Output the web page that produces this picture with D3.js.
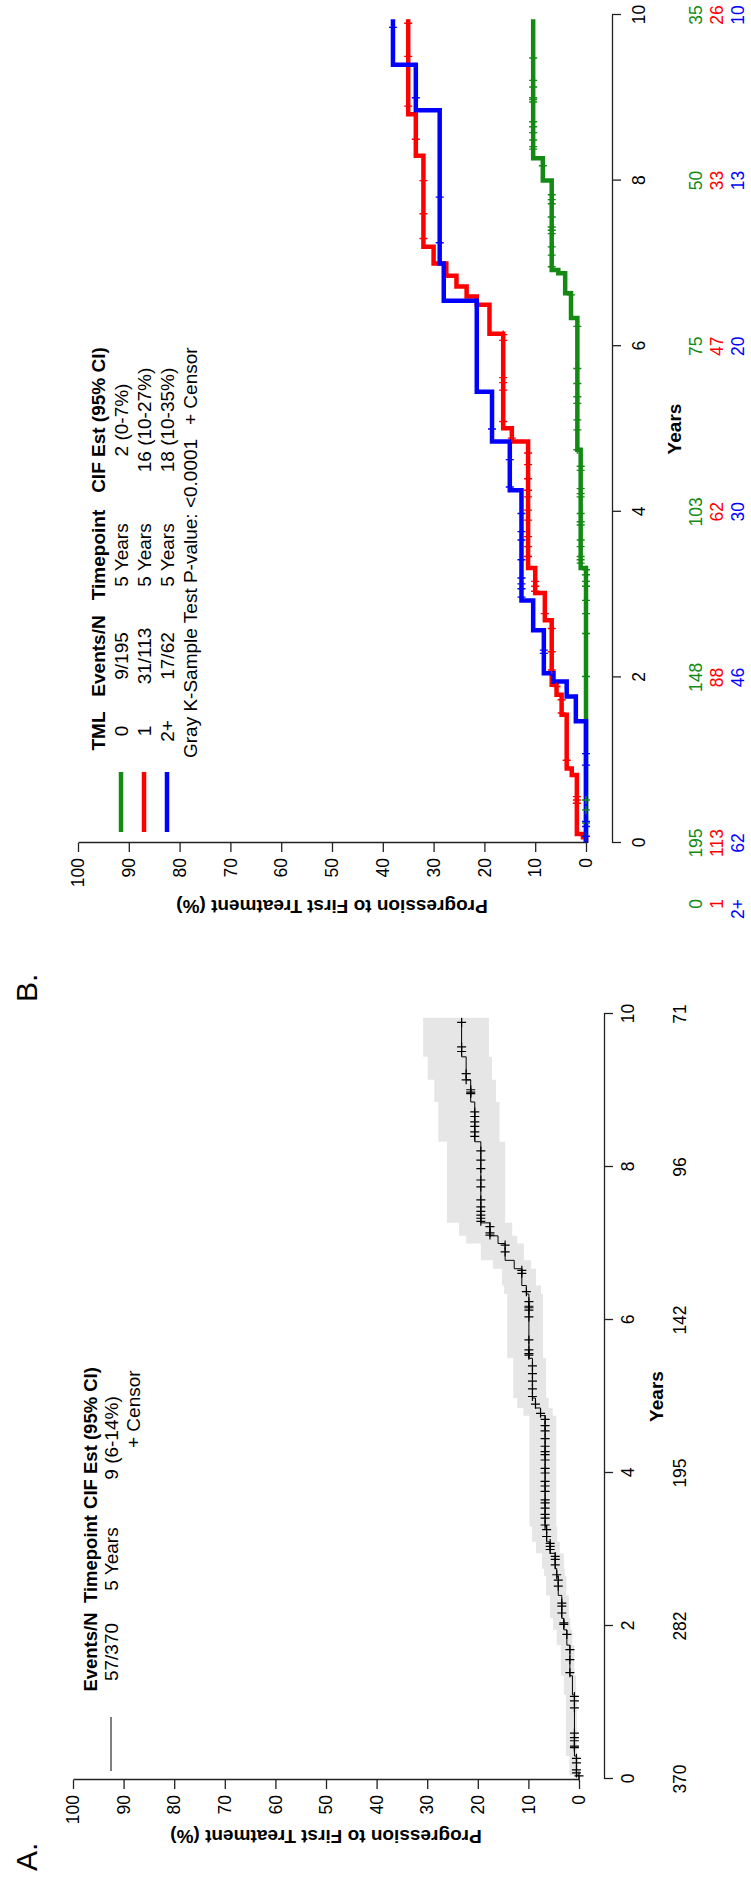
<!DOCTYPE html>
<html>
<head>
<meta charset="utf-8">
<script src="https://cdn.jsdelivr.net/npm/d3@7"></script>
<style>
  body { margin: 0; background: #fff; }
  text { font-family: "Liberation Sans", Arial, Helvetica, sans-serif; }
</style>
</head>
<body>
<div id="holder"></div>
<script>
var width = 751;
var height = 1888;

var yearTicks = [0, 2, 4, 6, 8, 10];
var pctTicks = [0, 10, 20, 30, 40, 50, 60, 70, 80, 90, 100];

// panel A: all patients
var riskA = [370, 282, 195, 142, 96, 71];
var timeA = [0, 0.05, 0.3, 1.1, 1.35, 1.75, 1.95, 2.1, 2.4, 2.65, 2.75, 2.95, 3.1, 3.3, 4.75, 4.85, 4.98, 5.5, 6.34, 6.45, 6.67, 6.78, 7.0, 7.1, 7.27, 8.33, 8.85, 9.14, 9.44, 9.95];
var cifA = [0, 0.5, 0.9, 1.3, 1.8, 2.4, 3.0, 3.4, 4.1, 4.4, 4.7, 5.7, 6.4, 6.7, 7.6, 8.6, 9.2, 9.9, 10.4, 11.3, 12.8, 14.6, 16.0, 17.6, 19.4, 20.6, 21.4, 22.3, 23.2, 23.2];
var lowA = [0, 0.1, 0.4, 0.6, 0.9, 1.3, 1.7, 2.0, 2.5, 2.8, 3.0, 3.8, 4.3, 4.5, 5.2, 6.0, 6.5, 7.1, 7.5, 8.5, 9.5, 10.9, 12.2, 13.2, 14.6, 15.7, 16.4, 17.2, 17.8, 17.8];
var highA = [0, 1.9, 2.6, 3.0, 3.6, 4.4, 5.1, 5.7, 6.5, 6.9, 7.3, 8.5, 9.3, 9.8, 11.0, 12.2, 13.0, 14.2, 14.8, 15.2, 17.0, 19.4, 22.3, 23.7, 26.1, 27.8, 28.6, 29.9, 30.8, 30.8];
var censorA = [0.04, 0.08, 0.12, 0.21, 0.27, 0.41, 0.43, 0.5, 0.54, 0.6, 0.93, 1.02, 1.08, 1.39, 1.56, 1.69,
  1.89, 2.02, 2.04, 2.17, 2.26, 2.3, 2.52, 2.6, 2.67, 2.8, 2.87, 2.91, 3.0, 3.04, 3.08, 3.17, 3.26, 3.32,
  3.41, 3.46, 3.54, 3.61, 3.65, 3.76, 3.83, 3.89, 4.0, 4.06, 4.17, 4.24, 4.28, 4.35, 4.45, 4.55, 4.62,
  4.7, 4.78, 4.9, 5.0, 5.1, 5.2, 5.3, 5.4, 5.54, 5.56, 5.61, 5.74, 6.04, 6.13, 6.16, 6.18, 6.24, 6.37,
  6.61, 6.65, 6.89, 6.98, 7.11, 7.14, 7.22, 7.29, 7.33, 7.37, 7.42, 7.48, 7.57, 7.74, 7.83, 7.98, 8.09,
  8.21, 8.4, 8.46, 8.53, 8.59, 8.66, 8.72, 8.96, 8.98, 9.01, 9.14, 9.22, 9.51, 9.57, 9.89];

// panel B: by TML group
var groups = ["0", "1", "2+"];
var groupColors = ["#138a13", "#ff0000", "#0000ff"];
var eventsN = ["9/195", "31/113", "17/62"];
var cifEst = ["2 (0-7%)", "16 (10-27%)", "18 (10-35%)"];
var riskB = [
  [195, 148, 103, 75, 50, 35],
  [113, 88, 62, 47, 33, 26],
  [62, 46, 30, 20, 13, 10]
];
var timeB = [
  [0, 3.32, 4.75, 6.34, 6.64, 6.88, 6.92, 8.0, 8.27, 9.95],
  [0, 0.07, 0.11, 0.82, 0.9, 1.55, 1.79, 1.91, 2.69, 3.02, 3.32, 4.85, 5.01, 6.15, 6.5, 6.6, 6.72, 6.85, 7.0, 7.2, 8.3, 8.8, 9.95],
  [0, 1.47, 1.77, 1.95, 2.05, 2.57, 2.93, 4.26, 4.85, 5.45, 6.55, 7.0, 8.85, 9.4, 9.95]
];
var cifB = [
  [0, 1.05, 1.7, 2.95, 4.1, 5.45, 6.75, 8.5, 10.4, 10.4],
  [0, 0.6, 1.8, 2.8, 3.8, 4.8, 5.8, 6.75, 8.1, 10.0, 11.4, 14.6, 16.3, 19.0, 21.5, 23.5, 25.5, 27.5, 30.0, 32.0, 33.5, 35.0, 35.0],
  [0, 2.0, 3.8, 6.4, 8.3, 10.4, 12.7, 15.0, 18.5, 21.5, 28.0, 28.8, 33.5, 38.0, 38.0]
];
var censorB = [
  [0.08, 0.24, 0.4, 0.52, 2.01, 2.53, 2.77, 2.93, 3.1, 3.16, 3.24, 3.3, 3.38, 3.42, 3.46, 3.58, 3.66,
   3.84, 3.88, 3.98, 4.18, 4.22, 4.28, 4.5, 4.55, 4.75, 4.99, 5.11, 5.31, 5.39, 5.55, 5.73, 6.24, 6.62,
   6.96, 7.1, 7.2, 7.36, 7.4, 7.44, 7.56, 7.72, 7.77, 7.83, 8.18, 8.38, 8.41, 8.49, 8.58, 8.65, 8.71,
   8.95, 8.98, 9.0, 9.13, 9.21, 9.48],
  [0.48, 0.52, 0.56, 1.0, 1.57, 1.73, 1.89, 2.09, 2.31, 2.59, 2.77, 3.04, 3.1, 3.16, 3.46, 3.58, 3.7,
   3.9, 4.02, 4.18, 4.26, 4.4, 4.57, 4.71, 4.89, 5.09, 5.47, 5.56, 5.62, 6.07, 6.14, 7.3, 7.6, 8.0,
   8.5, 8.9, 9.5, 9.9],
  [0.08, 0.2, 0.26, 0.94, 1.08, 2.29, 2.33, 2.97, 3.07, 3.13, 3.2, 3.42, 3.66, 3.76, 3.98, 4.3, 4.63,
   5.0, 7.25, 7.8, 9.0, 9.85]
];

var svg = d3.select("#holder")
  .append("svg")
  .attr("width", width)
  .attr("height", height);

svg.append("rect").attr("width", width).attr("height", height).attr("fill", "#fff");

// the figure is drawn landscape and turned a quarter turn
var fig = svg.append("g")
  .attr("transform", "translate(0," + height + ") rotate(-90)");

function stepAt(times, vals, t) {
  var i = d3.bisectRight(times, t) - 1;
  return vals[Math.max(0, i)];
}

function drawAxes(g, x, y, axisV, axisU, tickPad) {
  var bottom = g.append("g")
    .attr("transform", "translate(0," + axisV + ")")
    .call(d3.axisBottom(x).tickValues(yearTicks).tickSize(9).tickSizeOuter(0).tickPadding(tickPad));
  var left = g.append("g")
    .attr("transform", "translate(" + axisU + ",0)")
    .call(d3.axisLeft(y).tickValues(pctTicks).tickSize(9).tickSizeOuter(0).tickPadding(6));
  [bottom, left].forEach(function(a) {
    a.selectAll("path, line").attr("stroke", "#222").attr("stroke-width", 1.3);
    a.selectAll("text").attr("fill", "#000").style("font-size", "17.5px");
  });
}

function censorMarks(g, x, y, times, vals, list, arm, color, sw) {
  g.append("g").selectAll("path")
    .data(list)
    .enter().append("path")
    .attr("d", function(t) {
      var cx = x(t), cy = y(stepAt(times, vals, t));
      return "M" + (cx - arm) + "," + cy + "H" + (cx + arm) + "M" + cx + "," + (cy - arm) + "V" + (cy + arm);
    })
    .attr("stroke", color)
    .attr("stroke-width", sw)
    .attr("fill", "none");
}

// ---------- panel A ----------
var xA = d3.scaleLinear().domain([0, 10]).range([109, 874]);
var yA = d3.scaleLinear().domain([0, 100]).range([579, 73]);
var gA = fig.append("g");

var bandA = d3.area()
  .curve(d3.curveStepAfter)
  .x(function(d) { return xA(timeA[d]); })
  .y0(function(d) { return yA(lowA[d]); })
  .y1(function(d) { return yA(highA[d]); });
gA.append("path")
  .attr("d", bandA(d3.range(timeA.length)))
  .attr("fill", "#e6e6e6");

var lineA = d3.line()
  .curve(d3.curveStepAfter)
  .x(function(d) { return xA(timeA[d]); })
  .y(function(d) { return yA(cifA[d]); });
gA.append("path")
  .attr("d", lineA(d3.range(timeA.length)))
  .attr("fill", "none")
  .attr("stroke", "#000")
  .attr("stroke-width", 1);

censorMarks(gA, xA, yA, timeA, cifA, censorA, 4.5, "#000", 1.2);
drawAxes(gA, xA, yA, 604, 108, 9);

gA.append("g").selectAll("text")
  .data(riskA)
  .enter().append("text")
  .attr("x", function(d, i) { return xA(yearTicks[i]); })
  .attr("y", 686)
  .attr("text-anchor", "middle")
  .style("font-size", "17.5px")
  .text(function(d) { return d; });

gA.append("text")
  .attr("x", xA(5)).attr("y", 663)
  .attr("text-anchor", "middle")
  .style("font-size", "19px").style("font-weight", "bold")
  .text("Years");

gA.append("text")
  .attr("transform", "translate(58," + ((yA(0) + yA(100)) / 2) + ") rotate(-90)")
  .attr("text-anchor", "middle")
  .style("font-size", "19px").style("font-weight", "bold")
  .text("Progression to First Treatment (%)");

gA.append("text")
  .attr("x", 17).attr("y", 37)
  .style("font-size", "30px")
  .text("A.");

// legend A
var headA = [["Events/N", 236], ["Timepoint", 329], ["CIF Est (95% CI)", 450]];
var valsA = ["57/370", "5 Years", "9 (6-14%)"];
gA.append("g").selectAll("text")
  .data(headA)
  .enter().append("text")
  .attr("x", function(d) { return d[1]; })
  .attr("y", 97)
  .attr("text-anchor", "middle")
  .style("font-size", "18.5px").style("font-weight", "bold")
  .text(function(d) { return d[0]; });
gA.append("g").selectAll("text")
  .data(valsA)
  .enter().append("text")
  .attr("x", function(d, i) { return headA[i][1]; })
  .attr("y", 118)
  .attr("text-anchor", "middle")
  .style("font-size", "19px")
  .text(function(d) { return d; });
gA.append("line")
  .attr("x1", 117).attr("x2", 171).attr("y1", 111).attr("y2", 111)
  .attr("stroke", "#000").attr("stroke-width", 1);
gA.append("text")
  .attr("x", 440).attr("y", 140)
  .style("font-size", "19px")
  .text("+ Censor");

// ---------- panel B ----------
var xB = d3.scaleLinear().domain([0, 10]).range([1045, 1873]);
var yB = d3.scaleLinear().domain([0, 100]).range([586, 78]);
var gB = fig.append("g");

groups.forEach(function(grp, k) {
  var line = d3.line()
    .curve(d3.curveStepAfter)
    .x(function(d) { return xB(timeB[k][d]); })
    .y(function(d) { return yB(cifB[k][d]); });
  gB.append("path")
    .attr("d", line(d3.range(timeB[k].length)))
    .attr("fill", "none")
    .attr("stroke", groupColors[k])
    .attr("stroke-width", 4.5)
    .attr("stroke-linejoin", "miter");
});
groups.forEach(function(grp, k) {
  censorMarks(gB, xB, yB, timeB[k], cifB[k], censorB[k], 4, groupColors[k], 1.4);
});

drawAxes(gB, xB, yB, 612, 1045, 12);

var riskRows = [702, 723, 744];
groups.forEach(function(grp, k) {
  gB.append("g").selectAll("text")
    .data(riskB[k])
    .enter().append("text")
    .attr("x", function(d, i) { return xB(yearTicks[i]); })
    .attr("y", riskRows[k])
    .attr("text-anchor", "middle")
    .attr("fill", groupColors[k])
    .style("font-size", "17.5px")
    .text(function(d) { return d; });
  gB.append("text")
    .attr("x", 989).attr("y", riskRows[k])
    .attr("text-anchor", "end")
    .attr("fill", groupColors[k])
    .style("font-size", "17.5px")
    .text(grp);
});

gB.append("text")
  .attr("x", xB(5)).attr("y", 681)
  .attr("text-anchor", "middle")
  .style("font-size", "19px").style("font-weight", "bold")
  .text("Years");

gB.append("text")
  .attr("transform", "translate(988," + ((yB(0) + yB(100)) / 2) + ") rotate(-90)")
  .attr("text-anchor", "middle")
  .style("font-size", "19px").style("font-weight", "bold")
  .text("Progression to First Treatment (%)");

gB.append("text")
  .attr("x", 886).attr("y", 37)
  .style("font-size", "30px")
  .text("B.");

// legend B
var headB = [["TML", 1157], ["Events/N", 1232], ["Timepoint", 1333], ["CIF Est (95% CI)", 1468]];
var rowsB = [121, 144, 167];
gB.append("g").selectAll("text")
  .data(headB)
  .enter().append("text")
  .attr("x", function(d) { return d[1]; })
  .attr("y", 105)
  .attr("text-anchor", "middle")
  .style("font-size", "19px").style("font-weight", "bold")
  .text(function(d) { return d[0]; });
groups.forEach(function(grp, k) {
  var cells = [grp, eventsN[k], "5 Years", cifEst[k]];
  gB.append("g").selectAll("text")
    .data(cells)
    .enter().append("text")
    .attr("x", function(d, i) { return headB[i][1]; })
    .attr("y", rowsB[k] + 7)
    .attr("text-anchor", "middle")
    .style("font-size", "19px")
    .text(function(d) { return d; });
  gB.append("line")
    .attr("x1", 1056).attr("x2", 1116)
    .attr("y1", rowsB[k]).attr("y2", rowsB[k])
    .attr("stroke", groupColors[k]).attr("stroke-width", 4.5);
});
gB.append("text")
  .attr("x", 1130).attr("y", 197)
  .style("font-size", "19px")
  .text("Gray K-Sample Test P-value: <0.0001");
gB.append("text")
  .attr("x", 1463).attr("y", 197)
  .style("font-size", "19px")
  .text("+ Censor");
</script>
</body>
</html>
